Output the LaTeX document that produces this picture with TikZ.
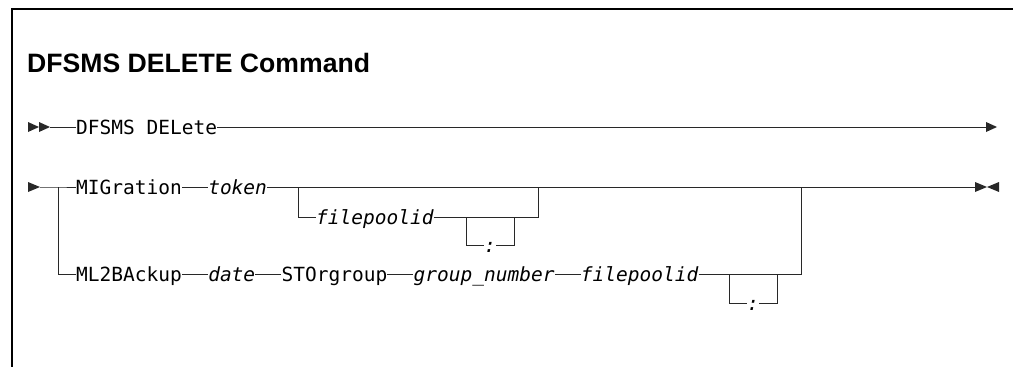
\documentclass[tikz,border=0pt]{standalone}
\usepackage{fontspec}
\usepackage{tikz}
\usetikzlibrary{positioning}
\usepackage{xcolor}
\newfontfamily\synfont{DejaVu Sans Mono}
\newfontfamily\headfont{Liberation Sans}
\newcommand{\syn}{\synfont\fontsize{19.5pt}{20pt}\selectfont}
\definecolor{railgray}{RGB}{40,40,40}
\tikzstyle{kw} = [font=\syn, inner sep=0pt, text height=14pt, text depth=0pt, anchor=west]
\tikzstyle{var} = [kw, font=\syn\itshape]
\tikzstyle{rail} = [line width=1pt, color=railgray]
\tikzstyle{frame} = [line width=1.5pt, color=black]

\begin{document}
\begin{tikzpicture}[x=1pt, y=-1pt]
\useasboundingbox (0,0) rectangle (1013,367);
\draw[frame] (12,367) -- (12,9) -- (1013,9);
\node (title) [anchor=base west, inner sep=0pt, font=\headfont\bfseries\fontsize{26.6pt}{28pt}\selectfont] at (27,72) {DFSMS DELETE Command};

\coordinate (r1s) at (50,127);
\coordinate (r1e) at (986,127);
\node (dfsms) [kw] at (76,127) {DFSMS DELete};
\fill[railgray] (28,122) -- (39,127) -- (28,132) -- cycle;
\fill[railgray] (39,122) -- (50,127) -- (39,132) -- cycle;
\draw[rail] (r1s) -- (dfsms);
\draw[rail] (dfsms) -- (r1e);
\fill[railgray] (r1e) -- ++(0,-5) -- ++(11,5) -- ++(-11,5) -- cycle;

\coordinate (r2s) at (40,187);
\coordinate (j1) at (58,187);
\coordinate (b1) at (298,187);
\coordinate (b2) at (538,187);
\coordinate (b3) at (801,187);
\coordinate (r2e) at (975,187);
\coordinate (c1l) at (466,217);
\coordinate (c1r) at (514,217);
\coordinate (c2l) at (729,274);
\coordinate (c2r) at (777,274);
\fill[railgray] (28,182) -- (40,187) -- (28,192) -- cycle;
\node (mig) [kw] at (76,187) {MIGration};
\node (tok) [var, right=26pt of mig] {token};
\node (fp1) [var] at (316,217) {filepoolid};
\node (col1) [var, anchor=center] at (490,245) {:};
\draw[rail] (r2s) -- (j1) -- (mig);
\draw[rail] (mig) -- (tok);
\draw[rail] (tok) -- (r2e);
\draw[rail] (b1) |- (fp1);
\draw[rail] (fp1) -| (b2);
\draw[rail] (c1l) |- (col1);
\draw[rail] (col1) -| (c1r);
\fill[railgray] (r2e) -- ++(0,-5) -- ++(12,5) -- ++(-12,5) -- cycle;
\fill[railgray] (999,182) -- (987,187) -- (999,192) -- cycle;

\node (ml) [kw] at (76,274) {ML2BAckup};
\node (dt) [var, right=26pt of ml] {date};
\node (sto) [kw, right=26pt of dt] {STOrgroup};
\node (grp) [var, right=26pt of sto] {group\_number};
\node (fp2) [var, right=26pt of grp] {filepoolid};
\node (col2) [var, anchor=center] at (753,303) {:};
\draw[rail] (j1) |- (ml);
\draw[rail] (ml) -- (dt);
\draw[rail] (dt) -- (sto);
\draw[rail] (sto) -- (grp);
\draw[rail] (grp) -- (fp2);
\draw[rail] (fp2) -| (b3);
\draw[rail] (c2l) |- (col2);
\draw[rail] (col2) -| (c2r);
\end{tikzpicture}
\end{document}
